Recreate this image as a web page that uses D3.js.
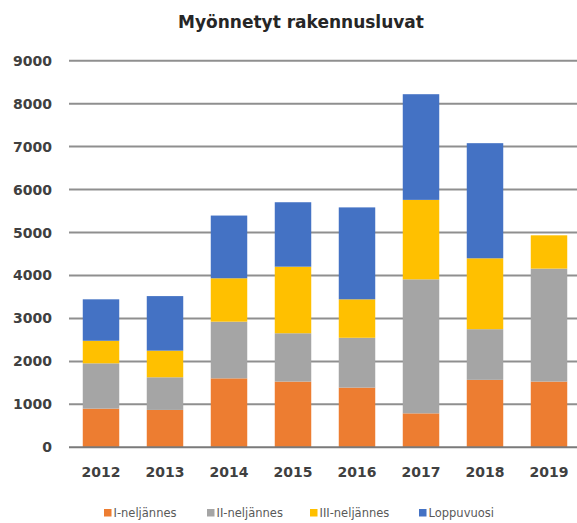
<!DOCTYPE html>
<html>
<head>
<meta charset="utf-8">
<script src="https://cdn.jsdelivr.net/npm/d3@7"></script>
<style>
  body { margin: 0; background: #fff; }
  svg { display: block; }
</style>
</head>
<body>
<div id="chart"></div>
<script>
var years = ['2012', '2013', '2014', '2015', '2016', '2017', '2018', '2019'];
var seriesNames = ['I-neljännes', 'II-neljännes', 'III-neljännes', 'Loppuvuosi'];
var q1 = [900, 870, 1605, 1530, 1390, 790, 1570, 1530];
var q2 = [1055, 760, 1320, 1125, 1160, 3120, 1180, 2630];
var q3 = [525, 620, 1010, 1550, 895, 1850, 1650, 775];
var rest = [965, 1270, 1460, 1500, 2140, 2460, 2680, 0];
var yTicks = [0, 1000, 2000, 3000, 4000, 5000, 6000, 7000, 8000, 9000];
var colors = ['#ED7D31', '#A5A5A5', '#FFC000', '#4472C4'];

var width = 577, height = 523;

// build rows for the stack
var rows = years.map(function(y, i) {
  return { year: y, 'I-neljännes': q1[i], 'II-neljännes': q2[i], 'III-neljännes': q3[i], 'Loppuvuosi': rest[i] };
});
var stacked = d3.stack().keys(seriesNames)(rows);

var x = d3.scaleBand()
    .domain(years)
    .range([69, 581])
    .paddingInner(0.43)
    .paddingOuter(0.215);

var y = d3.scaleLinear()
    .domain([0, 9000])
    .range([447.3, 60.7]);

var svg = d3.select('#chart')
    .append('svg')
    .attr('width', width)
    .attr('height', height);

svg.append('text')
    .attr('x', 301)
    .attr('y', 28)
    .attr('text-anchor', 'middle')
    .style('font-family', 'DejaVu Sans, sans-serif')
    .style('font-weight', 'bold')
    .style('font-size', '17px')
    .style('fill', '#262626')
    .text('Myönnetyt rakennusluvat');

// gridlines
svg.append('g')
    .selectAll('line')
    .data(yTicks.slice(1))
    .enter().append('line')
    .attr('x1', 69)
    .attr('x2', 577)
    .attr('y1', function(d) { return y(d); })
    .attr('y2', function(d) { return y(d); })
    .style('stroke', '#8f8f8f')
    .style('stroke-width', 2);

var layer = svg.selectAll('.serie')
    .data(stacked)
    .enter().append('g')
    .attr('class', 'serie')
    .style('fill', function(d, i) { return colors[i]; });

layer.selectAll('rect')
    .data(function(d) { return d; })
    .enter().append('rect')
    .attr('x', function(d) { return x(d.data.year); })
    .attr('y', function(d) { return y(d[1]); })
    .attr('width', x.bandwidth())
    .attr('height', function(d) { return y(d[0]) - y(d[1]); });

// x axis line
svg.append('line')
    .attr('x1', 69).attr('x2', 577)
    .attr('y1', y(0)).attr('y2', y(0))
    .style('stroke', '#7a7a7a')
    .style('stroke-width', 2);

var yAxis = svg.append('g')
    .attr('transform', 'translate(69,0)')
    .call(d3.axisLeft(y).tickValues(yTicks).tickFormat(d3.format('d')).tickSize(0).tickPadding(17));
yAxis.select('.domain').remove();
yAxis.selectAll('text')
    .style('font-family', 'DejaVu Sans, sans-serif')
    .style('font-weight', 'bold')
    .style('font-size', '14px')
    .style('fill', '#404040');

var xAxis = svg.append('g')
    .attr('transform', 'translate(0,' + y(0) + ')')
    .call(d3.axisBottom(x).tickSize(0).tickPadding(20));
xAxis.select('.domain').remove();
xAxis.selectAll('text')
    .style('font-family', 'DejaVu Sans, sans-serif')
    .style('font-weight', 'bold')
    .style('font-size', '14px')
    .style('fill', '#404040');

// legend
var legendX = [104, 207, 310, 419];
var legend = svg.selectAll('.legend')
    .data(seriesNames)
    .enter().append('g')
    .attr('class', 'legend')
    .attr('transform', function(d, i) { return 'translate(' + legendX[i] + ',509)'; });

legend.append('rect')
    .attr('width', 7.5)
    .attr('height', 7.5)
    .style('fill', function(d, i) { return colors[i]; });

legend.append('text')
    .attr('x', 9.5)
    .attr('y', 8)
    .style('font-family', 'DejaVu Sans, sans-serif')
    .style('font-size', '11.5px')
    .style('fill', '#595959')
    .text(function(d) { return d; });
</script>
</body>
</html>
